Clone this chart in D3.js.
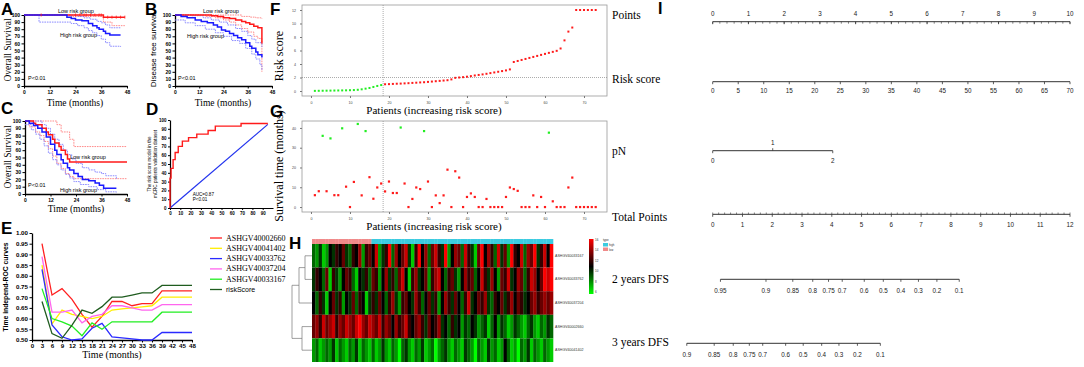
<!DOCTYPE html>
<html><head><meta charset="utf-8">
<script src="https://cdn.jsdelivr.net/npm/d3@7"></script>
<style>body{margin:0;background:#fff}svg{display:block}</style>
</head><body><svg id="c" width="1084" height="367"></svg>
<script>
// ---------------- DATA ----------------
const monthTicks = [0, 12, 24, 36, 48];
const survTicks = [0, 10, 20, 30, 40, 50, 60, 70, 80, 90, 100];
// Panel A (overall survival, training)
const aLowT = [0, 37, 47], aLowS = [100, 97, 97];
const aLowLoT = [0, 22, 37, 41, 47], aLowLo = [100, 98, 90, 85, 85];
const aLowCensor = [8, 24, 26, 28, 29, 31, 33, 35, 36, 39, 41, 43, 45, 47];
const aHighT = [0, 20, 22, 24, 27, 30, 32, 34, 35, 37, 38, 40, 45], aHighS = [100, 97, 95, 93, 92, 88, 85, 82, 80, 77, 74, 72, 72];
const aHighUpT = [0, 25, 28, 31, 34, 36, 38, 40, 45], aHighUp = [100, 98, 96, 94, 91, 89, 86, 82, 82];
const aHighLoT = [0, 7, 22, 25, 28, 30, 32, 34, 36, 38, 40, 45], aHighLo = [100, 90, 88, 85, 82, 78, 75, 71, 66, 61, 56, 55];
// Panel B (disease free survival)
const bLowT = [0, 18, 21, 24, 27, 30, 33, 35, 37, 39, 41, 43], bLowS = [100, 99, 98, 96, 95, 93, 91, 89, 87, 84, 82, 60];
const bLowUpT = [0, 30, 33, 37, 40, 43], bLowUp = [100, 100, 98, 97, 96, 95];
const bLowLoT = [0, 15, 20, 24, 27, 30, 33, 36, 39, 41, 43], bLowLo = [100, 98, 96, 93, 90, 86, 81, 76, 70, 67, 20];
const bHighT = [0, 3, 6, 10, 13, 16, 19, 21, 23, 25, 27, 29, 31, 33, 35, 37, 38, 40, 41, 43], bHighS = [100, 98, 96, 93, 91, 89, 86, 83, 79, 77, 74, 71, 68, 65, 61, 56, 53, 48, 44, 40];
const bHighUpT = [0, 8, 14, 18, 22, 26, 30, 33, 36, 38, 40, 43], bHighUp = [100, 99, 96, 93, 90, 86, 81, 77, 71, 66, 61, 55];
const bHighLoT = [0, 5, 10, 15, 20, 24, 28, 32, 35, 38, 40, 42, 43], bHighLo = [93, 89, 85, 80, 75, 70, 64, 60, 53, 45, 38, 30, 23];
// Panel C (overall survival, validation)
const cLowT = [0, 4, 5, 8, 10, 11, 13, 14, 16, 17, 19, 20, 21, 48], cLowS = [100, 97, 95, 90, 85, 81, 75, 70, 65, 60, 54, 48, 44, 44];
const cLowUpT = [0, 12, 15, 17, 21, 23, 48], cLowUp = [100, 100, 95, 85, 75, 65, 65];
const cLowLoT = [0, 2, 5, 7, 9, 11, 13, 15, 17, 19, 21, 23, 48], cLowLo = [100, 92, 85, 80, 72, 62, 52, 42, 35, 28, 24, 21, 21];
const cHighT = [0, 2, 4, 6, 8, 10, 12, 14, 15, 17, 18, 20, 21, 23, 25, 27, 30, 33, 35, 37, 43], cHighS = [100, 97, 94, 90, 85, 78, 68, 60, 54, 47, 42, 36, 33, 28, 24, 20, 18, 15, 12, 8, 8];
const cHighUpT = [0, 4, 8, 10, 12, 14, 16, 18, 20, 22, 24, 27, 30, 33, 36, 38, 43], cHighUp = [100, 100, 95, 90, 82, 75, 68, 60, 54, 48, 42, 36, 33, 30, 28, 25, 20];
const cHighLoT = [0, 3, 5, 7, 9, 11, 13, 15, 17, 19, 21, 23, 26, 30, 34, 38, 43], cHighLo = [95, 88, 82, 75, 66, 56, 47, 40, 33, 27, 22, 17, 13, 10, 6, 3, 2];
// Panel D (ROC)
const rocFpr = [0, 0, 1, 3, 5, 8, 12, 18, 26, 37, 44, 69, 95];
const rocTpr = [0, 34, 45, 55, 63, 70, 76, 80, 84, 88, 93, 96, 96];
const rocDiag = [0, 95];
const rocTicksX = [0, 10, 20, 30, 40, 50, 60, 70, 80, 90];
// Panel E (time-dependent ROC)
const eTime = [3, 6, 9, 12, 15, 18, 21, 24, 27, 30, 33, 36, 39, 42, 45, 48];
const eTicksX = d3.range(0, 49, 3);
const eTicksY = [0.50, 0.55, 0.60, 0.65, 0.70, 0.75, 0.80, 0.85, 0.90, 0.95, 1.00];
const eNames = ["ASHGV40002660", "ASHGV40041402", "ASHGV40033762", "ASHGV40037204", "ASHGV40033167", "riskScore"];
const e2660 = [0.95, 0.71, 0.74, 0.69, 0.62, 0.56, 0.61, 0.68, 0.68, 0.66, 0.67, 0.67, 0.73, 0.73, 0.73, 0.73];
const e41402 = [0.85, 0.575, 0.64, 0.62, 0.61, 0.60, 0.61, 0.64, 0.645, 0.65, 0.655, 0.66, 0.70, 0.70, 0.70, 0.70];
const e33762 = [0.83, 0.57, 0.515, 0.50, 0.505, 0.555, 0.578, 0.515, 0.51, 0.505, 0.50, 0.50, 0.535, 0.535, 0.535, 0.535];
const e37204 = [0.89, 0.63, 0.63, 0.64, 0.58, 0.61, 0.62, 0.66, 0.66, 0.65, 0.64, 0.64, 0.665, 0.665, 0.665, 0.665];
const e33167 = [0.74, 0.60, 0.585, 0.565, 0.52, 0.58, 0.55, 0.585, 0.585, 0.585, 0.585, 0.585, 0.63, 0.63, 0.63, 0.63];
const eRisk = [0.68, 0.53, 0.508, 0.57, 0.64, 0.625, 0.656, 0.70, 0.70, 0.71, 0.72, 0.72, 0.755, 0.755, 0.755, 0.755];
// Panel F (risk score, sorted patients)
const fLow = [0.02, 0.03, 0.04, 0.05, 0.06, 0.07, 0.08, 0.09, 0.1, 0.12, 0.14, 0.18, 0.25, 0.35, 0.45, 0.6, 0.75, 0.88];
const fHigh = [1.00, 1.02, 1.05, 1.08, 1.1, 1.13, 1.16, 1.2, 1.23, 1.27, 1.3, 1.35, 1.4, 1.45, 1.5, 1.55, 1.6, 1.72, 1.95, 2.0, 2.05, 2.12, 2.2, 2.3, 2.38, 2.46, 2.55, 2.65, 2.75, 2.85, 2.95, 3.05, 3.2, 4.3, 4.45, 4.6, 4.75, 4.9, 5.05, 5.2, 5.35, 5.5, 5.65, 5.8, 5.95, 6.3, 7.5, 8.8, 9.4, 12, 12, 12, 12, 12, 12];
const fCutPatient = 18, fCutScore = 2.0;
const fTicksX = [0, 10, 20, 30, 40, 50, 60, 70], fTicksY = [0, 2, 4, 6, 8, 10, 12];
// Panel G (survival time, status 1 = red, 0 = green)
const gTime = [6, 8, 36, 8, 34.7, 6, 6, 39.8, 10.3, 0, 12.7, 42, 5.9, 38.4, 15.1, 4.2, 9.9, 11.9, 7.9, 12.9, 7.1, 7.1, 40.2, 11.9, 0, 4.1, 9.9, 9.1, 38.4, 12.9, 0, 5.9, 2, 5.9, 18.9, 0, 18.1, 14.9, 0, 5.1, 6.9, 5.1, 0, 0, 4.1, 0, 0, 0, 0, 5.1, 9.9, 9.1, 8.2, 0, 0, 0, 5.9, 0, 5.1, 0, 37.6, 2.9, 0, 0, 0, 9.9, 14.9, 0, 0, 0, 0, 0, 0];
const gStatus = [1, 1, 0, 1, 0, 1, 1, 0, 1, 1, 1, 0, 1, 0, 1, 1, 1, 1, 1, 1, 1, 1, 0, 1, 1, 1, 1, 1, 0, 1, 1, 1, 1, 1, 1, 1, 1, 1, 1, 1, 1, 1, 1, 1, 1, 1, 1, 1, 1, 1, 1, 1, 1, 1, 1, 1, 1, 1, 1, 1, 0, 1, 1, 1, 1, 1, 1, 1, 1, 1, 1, 1, 1];
const gTicksY = [0, 10, 20, 30, 40];
// Panel H (heatmap expression)
const hGenes = ["ASHGV40033167", "ASHGV40033762", "ASHGV40037204", "ASHGV40002660", "ASHGV40041402"];
const hRow1 = [9, 8, 10, 7, 8, 11, 10, 12, 11, 13, 10, 9, 12, 11, 14, 8, 12, 13, 11, 15, 8, 10, 12, 16, 9, 14, 11, 13, 15, 10, 7, 12, 16, 11, 14, 9, 13, 15, 12, 10, 16, 8, 11, 14, 13, 9, 15, 12, 10, 7, 13, 16, 11, 14, 12, 9, 15, 10, 13, 8, 16, 12, 11, 15, 9, 14, 13, 16, 10, 12, 15, 11, 16];
const hRow2 = [10, 12, 11, 9, 13, 7, 12, 10, 8, 11, 13, 12, 9, 7, 11, 10, 12, 9, 13, 12, 8, 11, 14, 10, 12, 9, 13, 15, 11, 7, 12, 14, 10, 11, 13, 8, 12, 14, 15, 11, 9, 12, 13, 10, 8, 11, 14, 12, 13, 9, 11, 15, 12, 10, 14, 11, 8, 13, 12, 15, 10, 11, 14, 13, 9, 12, 15, 14, 11, 13, 16, 15, 16];
const hRow3 = [11, 9, 12, 10, 7, 11, 13, 10, 12, 8, 11, 10, 13, 9, 12, 11, 7, 10, 12, 10, 13, 11, 9, 12, 14, 10, 8, 12, 13, 11, 10, 14, 12, 9, 11, 13, 10, 12, 8, 11, 14, 12, 10, 13, 11, 9, 12, 15, 10, 11, 13, 12, 14, 10, 9, 12, 11, 13, 10, 12, 14, 11, 13, 12, 10, 11, 13, 14, 12, 13, 14, 13, 14];
const hRow4 = [13, 14, 12, 15, 13, 14, 15, 12, 14, 13, 15, 14, 13, 15, 16, 14, 13, 15, 14, 13, 15, 12, 14, 13, 11, 14, 12, 13, 15, 12, 11, 13, 14, 12, 10, 13, 11, 12, 14, 10, 11, 9, 12, 10, 11, 8, 10, 9, 11, 10, 8, 9, 10, 7, 9, 11, 8, 10, 9, 7, 8, 10, 9, 8, 7, 9, 10, 8, 7, 9, 8, 10, 9];
const hRow5 = [8, 9, 7, 8, 9, 8, 10, 7, 9, 8, 7, 9, 8, 10, 7, 9, 8, 7, 9, 7, 8, 10, 8, 7, 9, 8, 6, 9, 10, 8, 7, 9, 8, 10, 7, 8, 9, 6, 8, 9, 10, 8, 7, 9, 8, 7, 10, 9, 8, 6, 9, 8, 7, 10, 8, 9, 7, 8, 11, 9, 7, 8, 6, 9, 8, 10, 7, 9, 8, 7, 9, 8, 7];
const hLowCount = 18;
const hLegendTicks = [6, 8, 10, 12, 14, 16];
// Panel I (nomogram)
const nomoPointsTicks = d3.range(0, 11, 1);
const nomoRiskTicks = d3.range(0, 71, 5);
const nomoPNLevels = ["0", "1", "2"], nomoPNPoints = [0, 1.68, 3.36];
const nomoTotalTicks = d3.range(0, 13, 1);
const dfs2Labels = ["0.95", "0.9", "0.85", "0.8", "0.75", "0.7", "0.6", "0.5", "0.4", "0.3", "0.2", "0.1"];
const dfs2Total = [0.26, 1.79, 2.69, 3.36, 3.89, 4.35, 5.09, 5.73, 6.32, 6.91, 7.53, 8.28];
const dfs3Labels = ["0.9", "0.85", "0.8", "0.75", "0.7", "0.6", "0.5", "0.4", "0.3", "0.2", "0.1"];
const dfs3Total = [-0.87, 0.05, 0.69, 1.23, 1.68, 2.45, 3.04, 3.66, 4.24, 4.86, 5.63];

// ---------------- DRAW ----------------
const svg = d3.select("#c");
svg.append("rect").attr("width", 1084).attr("height", 367).attr("fill", "#fff");
const SANS = "'Liberation Sans', Arial, sans-serif", SERIF = "'Liberation Serif', 'Times New Roman', serif";
function txt(x, y, s, o = {}) {
  const t = svg.append("text").attr("x", x).attr("y", y).text(s)
    .attr("font-family", o.ff || SANS).attr("font-size", o.fs || 6)
    .attr("font-weight", o.fw || "normal").attr("fill", o.fill || "#000")
    .attr("text-anchor", o.anchor || "start");
  if (o.rot) t.attr("transform", `rotate(${o.rot},${x},${y})`);
  return t;
}
function letter(x, y, s) { txt(x, y, s, { fs: 17, fw: "bold" }); }
const zip = (a, b) => a.map((v, i) => [v, b[i]]);

function km(cfg) {
  const g = svg.append("g");
  const x = d3.scaleLinear([0, 48], [cfg.x0, cfg.x1]);
  const y = d3.scaleLinear([0, 100], [cfg.yb, cfg.yt]);
  const ax = g.append("g").attr("transform", `translate(0,${cfg.yb})`)
    .call(d3.axisBottom(x).tickValues(monthTicks).tickSize(2.5).tickSizeOuter(0).tickPadding(2));
  const ay = g.append("g").attr("transform", `translate(${cfg.x0},0)`)
    .call(d3.axisLeft(y).tickValues(survTicks).tickSize(2.5).tickSizeOuter(0).tickPadding(1.5));
  [ax, ay].forEach(a => {
    a.select(".domain").attr("stroke", "#000").attr("stroke-width", 1.3);
    a.selectAll(".tick line").attr("stroke", "#000").attr("stroke-width", 1);
    a.selectAll("text").attr("font-family", SANS).attr("font-size", 5).attr("font-weight", "bold");
  });
  const line = d3.line().x(d => x(d[0])).y(d => y(d[1])).curve(d3.curveStepAfter);
  cfg.series.forEach(s => {
    g.append("path").attr("d", line(zip(s.t, s.v))).attr("fill", "none")
      .attr("stroke", s.c).attr("stroke-width", s.w || 1.5)
      .attr("stroke-dasharray", s.dash || null);
  });
  if (cfg.censor) {
    const c = cfg.censor;
    c.times.forEach(t => {
      let v = c.v[0];
      c.t.forEach((tt, i) => { if (tt <= t) v = c.v[i]; });
      g.append("line").attr("x1", x(t)).attr("x2", x(t)).attr("y1", y(v) - 1.5).attr("y2", y(v) + 1.5)
        .attr("stroke", c.c).attr("stroke-width", 0.8);
    });
  }
}
const RED = "#ff1a1a", BLUE = "#1a1aff", LRED = "#ff8080", LBLUE = "#8080ff", DOT = "1.6,0.9";

// A
letter(1, 15, "A");
km({ x0: 24, x1: 127, yt: 15, yb: 86, series: [
  { t: aLowLoT, v: aLowLo, c: LRED, w: 0.9, dash: DOT },
  { t: aHighUpT, v: aHighUp, c: LBLUE, w: 0.9, dash: DOT },
  { t: aHighLoT, v: aHighLo, c: LBLUE, w: 0.9, dash: DOT },
  { t: aLowT, v: aLowS, c: RED },
  { t: aHighT, v: aHighS, c: BLUE }],
  censor: { times: aLowCensor, t: aLowT, v: aLowS, c: RED } });
txt(11, 50, "Overall Survival", { ff: SERIF, fs: 9.5, anchor: "middle", rot: -90 });
txt(75, 106, "Time (months)", { ff: SERIF, fs: 9.5, anchor: "middle" });
txt(58, 12.5, "Low risk group", { fs: 5.5 });
txt(60, 37, "High risk group", { fs: 5.5 });
txt(28, 80, "P<0.01", { fs: 5.5 });

// B
letter(145, 15, "B");
km({ x0: 175, x1: 272, yt: 15, yb: 86, series: [
  { t: bLowUpT, v: bLowUp, c: LRED, w: 0.9, dash: DOT },
  { t: bLowLoT, v: bLowLo, c: LRED, w: 0.9, dash: DOT },
  { t: bHighUpT, v: bHighUp, c: LBLUE, w: 0.9, dash: DOT },
  { t: bHighLoT, v: bHighLo, c: LBLUE, w: 0.9, dash: DOT },
  { t: bLowT, v: bLowS, c: RED },
  { t: bHighT, v: bHighS, c: BLUE }] });
txt(156, 50, "Disease free survival", { fs: 8, anchor: "middle", rot: -90 });
txt(223, 106, "Time (months)", { ff: SERIF, fs: 9.5, anchor: "middle" });
txt(203, 12.5, "Low risk group", { fs: 5.5 });
txt(187, 38, "High risk group", { fs: 5.5 });
txt(178, 80, "P<0.01", { fs: 5.5 });

// C
letter(1, 114, "C");
km({ x0: 25, x1: 127, yt: 121, yb: 194, series: [
  { t: cLowUpT, v: cLowUp, c: LRED, w: 0.9, dash: DOT },
  { t: cLowLoT, v: cLowLo, c: LRED, w: 0.9, dash: DOT },
  { t: cHighUpT, v: cHighUp, c: LBLUE, w: 0.9, dash: DOT },
  { t: cHighLoT, v: cHighLo, c: LBLUE, w: 0.9, dash: DOT },
  { t: cLowT, v: cLowS, c: RED },
  { t: cHighT, v: cHighS, c: BLUE }] });
txt(11, 157, "Overall Survival", { ff: SERIF, fs: 9.5, anchor: "middle", rot: -90 });
txt(76, 212, "Time (months)", { ff: SERIF, fs: 9.5, anchor: "middle" });
txt(70, 159, "Low risk group", { fs: 5.5 });
txt(60, 192, "High risk group", { fs: 5.5 });
txt(28, 187, "P<0.01", { fs: 5.5 });

// D
letter(146, 115, "D");
{
  const x = d3.scaleLinear([0, 100], [170, 273]);
  const y = d3.scaleLinear([0, 100], [208, 120]);
  const g = svg.append("g");
  const ax = g.append("g").attr("transform", "translate(0,208)")
    .call(d3.axisBottom(x).tickValues(rocTicksX).tickSize(2).tickSizeOuter(0).tickPadding(1.5));
  const ay = g.append("g").attr("transform", "translate(170,0)")
    .call(d3.axisLeft(y).tickValues(survTicks).tickSize(2).tickSizeOuter(0).tickPadding(1.5));
  [ax, ay].forEach(a => {
    a.select(".domain").attr("stroke", "#000").attr("stroke-width", 1.2);
    a.selectAll(".tick line").attr("stroke", "#000");
    a.selectAll("text").attr("font-family", SANS).attr("font-size", 4.5).attr("font-weight", "bold");
  });
  g.append("path").attr("d", d3.line().x(d => x(d)).y(d => y(d))(rocDiag))
    .attr("stroke", "#2233ee").attr("stroke-width", 1.2).attr("fill", "none");
  g.append("path").attr("d", d3.line().x(d => x(d[0])).y(d => y(d[1])).curve(d3.curveStepAfter)(zip(rocFpr, rocTpr)))
    .attr("stroke", RED).attr("stroke-width", 1.4).attr("fill", "none");
  txt(151, 164, "The risk score model in the", { fs: 4.6, anchor: "middle", rot: -90 });
  txt(157, 164, "mCRC patients validation dataset", { fs: 4.6, anchor: "middle", rot: -90 });
  txt(x(22), 196, "AUC=0.87", { fs: 4.6 });
  txt(x(22), 201, "P<0.01", { fs: 4.6 });
}

// E
letter(1, 234, "E");
{
  const x = d3.scaleLinear([0, 48], [32, 192]);
  const y = d3.scaleLinear([0.5, 1.0], [340, 233]);
  const g = svg.append("g");
  const ax = g.append("g").attr("transform", "translate(0,340)")
    .call(d3.axisBottom(x).tickValues(eTicksX).tickSize(2.5).tickSizeOuter(0).tickPadding(1.5));
  const ay = g.append("g").attr("transform", "translate(32,0)")
    .call(d3.axisLeft(y).tickValues(eTicksY).tickFormat(d3.format(".2f")).tickSize(2.5).tickSizeOuter(0).tickPadding(1.5));
  [ax, ay].forEach(a => {
    a.select(".domain").attr("stroke", "#000").attr("stroke-width", 1.3);
    a.selectAll(".tick line").attr("stroke", "#000");
    a.selectAll("text").attr("font-family", SANS).attr("font-size", 6.2).attr("font-weight", "bold");
  });
  const cols = ["#ff2020", "#ffee00", "#2a2aff", "#ff66ee", "#22ee22", "#1f5c1f"];
  const series = [e2660, e41402, e33762, e37204, e33167, eRisk];
  const line = d3.line().x(d => x(d[0])).y(d => y(d[1]));
  series.forEach((s, i) => g.append("path").attr("d", line(zip(eTime, s))).attr("fill", "none")
    .attr("stroke", cols[i]).attr("stroke-width", 1.3));
  txt(8, 287, "Time independ-ROC curves", { fs: 6.8, fw: "bold", anchor: "middle", rot: -90 });
  txt(112, 358, "Time (months)", { ff: SERIF, fs: 10, anchor: "middle" });
  const ly = d3.scaleLinear([0, 5], [238, 289.5]);
  eNames.forEach((n, i) => {
    g.append("line").attr("x1", 210).attr("x2", 222).attr("y1", ly(i)).attr("y2", ly(i))
      .attr("stroke", cols[i]).attr("stroke-width", 1.3);
    txt(226, ly(i) + 2.5, n, { ff: i === 5 ? SANS : SERIF, fs: i === 5 ? 7 : 8 });
  });
}

// F
letter(270, 15, "F");
function scatterFrame(cfg) {
  const g = svg.append("g");
  const x = d3.scaleLinear([-2.3, 75.9], [302, 607]);
  const y = d3.scaleLinear(cfg.yDom, [cfg.yb, cfg.yt]);
  g.append("rect").attr("x", 302).attr("y", cfg.yt).attr("width", 305).attr("height", cfg.yb - cfg.yt)
    .attr("fill", "none").attr("stroke", "#9a9a9a").attr("stroke-width", 0.8);
  const ax = g.append("g").attr("transform", `translate(0,${cfg.yb})`)
    .call(d3.axisBottom(x).tickValues(fTicksX).tickSize(2).tickSizeOuter(0).tickPadding(3));
  const ay = g.append("g").attr("transform", "translate(302,0)")
    .call(d3.axisLeft(y).tickValues(cfg.yTicks).tickSize(2).tickSizeOuter(0).tickPadding(4));
  [ax, ay].forEach(a => {
    a.select(".domain").remove();
    a.selectAll(".tick line").attr("stroke", "#777");
    a.selectAll("text").attr("font-family", SANS).attr("font-size", 3.6).attr("fill", "#444");
  });
  g.append("line").attr("x1", x(fCutPatient + 0.5)).attr("x2", x(fCutPatient + 0.5))
    .attr("y1", cfg.yt).attr("y2", cfg.yb).attr("stroke", "#888").attr("stroke-width", 0.7).attr("stroke-dasharray", "1,1");
  return { g, x, y };
}
{
  const { g, x, y } = scatterFrame({ yDom: [-0.74, 12.74], yt: 5, yb: 96, yTicks: fTicksY });
  g.append("line").attr("x1", 302).attr("x2", 607).attr("y1", y(fCutScore)).attr("y2", y(fCutScore))
    .attr("stroke", "#888").attr("stroke-width", 0.7).attr("stroke-dasharray", "1,1");
  const pts = fLow.map((v, i) => ({ p: i + 1, v, c: "#22ee22" }))
    .concat(fHigh.map((v, i) => ({ p: i + 1 + fLow.length, v, c: "#ff1a1a" })));
  g.selectAll("rect.pt").data(pts).join("rect").attr("class", "pt")
    .attr("x", d => x(d.p) - 1).attr("y", d => y(d.v) - 1).attr("width", 2).attr("height", 2).attr("fill", d => d.c);
  txt(283, 56, "Risk score", { ff: SERIF, fs: 12, anchor: "middle", rot: -90 });
  txt(434, 114, "Patients (increasing risk score)", { ff: SERIF, fs: 11, anchor: "middle" });
}

// G
letter(270, 117, "G");
{
  const { g, x, y } = scatterFrame({ yDom: [-2.5, 43.5], yt: 121, yb: 212, yTicks: gTicksY });
  g.selectAll("rect.pt").data(gTime.map((v, i) => ({ p: i + 1, v, s: gStatus[i] }))).join("rect").attr("class", "pt")
    .attr("x", d => x(d.p) - 1.1).attr("y", d => y(d.v) - 1.1).attr("width", 2.2).attr("height", 2.2)
    .attr("fill", d => d.s ? "#ff1a1a" : "#22ee22");
  txt(283, 166, "Survival time (months)", { ff: SERIF, fs: 12, anchor: "middle", rot: -90 });
  txt(434, 230, "Patients (increasing risk score)", { ff: SERIF, fs: 11, anchor: "middle" });
}

// H
letter(289, 249, "H");
{
  const rows = [hRow1, hRow2, hRow3, hRow4, hRow5];
  const n = hRow1.length;
  const x = d3.scaleBand(d3.range(n), [312, 553]);
  const y = d3.scaleBand(d3.range(5), [244, 362]);
  const col = d3.scaleLinear([6, 11, 16], ["#00ff00", "#000000", "#ff0000"]).clamp(true);
  const g = svg.append("g");
  rows.forEach((r, ri) => r.forEach((v, ci) => g.append("rect")
    .attr("x", x(ci)).attr("y", y(ri)).attr("width", x.bandwidth() + 0.3).attr("height", y.bandwidth())
    .attr("fill", col(v))));
  d3.range(n).forEach(ci => g.append("rect").attr("x", x(ci)).attr("y", 239).attr("width", x.bandwidth() + 0.3).attr("height", 5)
    .attr("fill", ci < hLowCount ? "#f08a8a" : "#3ccbe0"));
  hGenes.forEach((s, i) => txt(555, y(i) + y.bandwidth() / 2 + 1, s, { fs: 3.6, fill: "#333" }));
  const yc = i => y(i) + y.bandwidth() / 2;
  const m12 = (yc(0) + yc(1)) / 2, m123 = (m12 + yc(2)) / 2, m45 = (yc(3) + yc(4)) / 2;
  const segs = [
    [312, yc(0), 305, yc(0)], [312, yc(1), 305, yc(1)], [305, yc(0), 305, yc(1)],
    [305, m12, 299, m12], [312, yc(2), 299, yc(2)], [299, m12, 299, yc(2)],
    [312, yc(3), 302, yc(3)], [312, yc(4), 302, yc(4)], [302, yc(3), 302, yc(4)],
    [299, m123, 292, m123], [302, m45, 292, m45], [292, m123, 292, m45]];
  segs.forEach(s => g.append("line").attr("x1", s[0]).attr("y1", s[1]).attr("x2", s[2]).attr("y2", s[3])
    .attr("stroke", "#777").attr("stroke-width", 0.7));
  const defs = svg.append("defs");
  const grad = defs.append("linearGradient").attr("id", "hg").attr("x1", 0).attr("x2", 0).attr("y1", 1).attr("y2", 0);
  [[0, "#00ff00"], [0.5, "#000000"], [1, "#ff0000"]].forEach(s => grad.append("stop").attr("offset", s[0]).attr("stop-color", s[1]));
  const ly = d3.scaleLinear([6, 16], [292, 240]);
  g.append("rect").attr("x", 589).attr("y", 239).attr("width", 4.5).attr("height", 55).attr("fill", "url(#hg)");
  hLegendTicks.forEach(t => txt(595, ly(t) + 1, String(t), { fs: 3, fill: "#333" }));
  txt(603, 241, "type", { fs: 3, fill: "#333" });
  g.append("rect").attr("x", 603).attr("y", 243).attr("width", 5).attr("height", 3.5).attr("fill", "#3ccbe0");
  g.append("rect").attr("x", 603).attr("y", 247.5).attr("width", 5).attr("height", 3.5).attr("fill", "#f08a8a");
  txt(609, 246, "high", { fs: 2.8, fill: "#333" });
  txt(609, 250.5, "low", { fs: 2.8, fill: "#333" });
}

// I nomogram
txt(658, 14, "I", { fs: 16, fw: "bold" });
{
  const pts = d3.scaleLinear([0, 10], [712.7, 1070]);
  const risk = d3.scaleLinear([0, 70], [712.7, 1070]);
  const tot = d3.scaleLinear([0, 12], [712.7, 1070]);
  const g = svg.append("g");
  const LC = "#333";
  const hline = (x1, x2, y) => g.append("line").attr("x1", x1).attr("x2", x2).attr("y1", y).attr("y2", y).attr("stroke", LC).attr("stroke-width", 1);
  const tick = (x, y, len, w) => g.append("line").attr("x1", x).attr("x2", x).attr("y1", y).attr("y2", y + len).attr("stroke", LC).attr("stroke-width", w || 0.8);
  const lab = (x, y, s) => txt(x, y, s, { fs: 6.3, anchor: "middle", fill: "#222" });
  const rowLab = (y, s) => txt(612, y, s, { ff: SERIF, fs: 11.5 });
  rowLab(19, "Points");
  hline(pts(0), pts(10), 21.7);
  d3.range(0, 10.01, 0.2).forEach(v => tick(pts(v), 21.7, 2, 0.6));
  nomoPointsTicks.forEach(v => { tick(pts(v), 21.7, 2.5); lab(pts(v), 15.5, String(v)); });
  rowLab(83, "Risk score");
  hline(risk(0), risk(70), 81.7);
  nomoRiskTicks.forEach(v => { tick(risk(v), 81.7, 2.5); lab(risk(v), 92.5, String(v)); });
  rowLab(155, "pN");
  hline(pts(nomoPNPoints[0]), pts(nomoPNPoints[2]), 150.7);
  nomoPNLevels.forEach((s, i) => {
    if (i === 1) { tick(pts(nomoPNPoints[i]), 150.7, -2.5); lab(pts(nomoPNPoints[i]), 145, s); }
    else { tick(pts(nomoPNPoints[i]), 150.7, 2.5); lab(pts(nomoPNPoints[i]), 163, s); }
  });
  rowLab(221, "Total Points");
  hline(tot(0), tot(12), 214.3);
  d3.range(0, 12.01, 0.2).forEach(v => tick(tot(v), 214.3, -1.8, 0.6));
  nomoTotalTicks.forEach(v => { tick(tot(v), 214.3, 2.5); lab(tot(v), 227, String(v)); });
  rowLab(283, "2 years DFS");
  hline(tot(dfs2Total[0]), tot(dfs2Total[dfs2Total.length - 1]), 279.3);
  dfs2Total.forEach((v, i) => { tick(tot(v), 279.3, 2.5); lab(tot(v), 293, dfs2Labels[i]); });
  rowLab(346, "3 years DFS");
  hline(tot(dfs3Total[0]), tot(dfs3Total[dfs3Total.length - 1]), 343.3);
  dfs3Total.forEach((v, i) => { tick(tot(v), 343.3, 2.5); lab(tot(v), 356.5, dfs3Labels[i]); });
}
</script></body></html>
